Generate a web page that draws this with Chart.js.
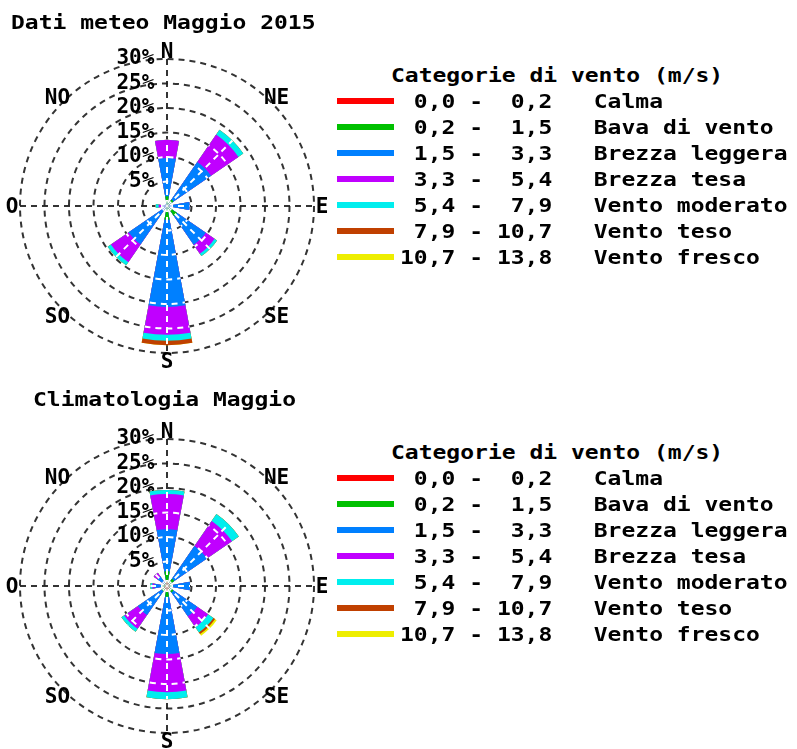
<!DOCTYPE html>
<html>
<head>
<meta charset="utf-8">
<title>Rosa dei venti - Maggio</title>
<script src="https://cdn.jsdelivr.net/npm/chart.js@4/dist/chart.umd.min.js"></script>
<style>
  html, body { margin: 0; padding: 0; background: #fff; }
  body { width: 797px; height: 749px; position: relative; overflow: hidden;
         font-family: "DejaVu Sans Mono", "Liberation Mono", monospace; font-weight: bold; color: #000; }
  canvas { position: absolute; left: 0; }
  .txt { position: absolute; font-size: 19px; line-height: 19px; white-space: pre;
         transform: scaleX(1.21); transform-origin: 0 0; }
  .swatch { position: absolute; width: 57px; height: 6px; }
</style>
</head>
<body>
<canvas id="rose2015" width="340" height="380" style="top:0px"></canvas>
<canvas id="roseClima" width="340" height="380" style="top:380px"></canvas>

<script>
// Compass sectors, clockwise from north
const directions = ['N', 'NE', 'E', 'SE', 'S', 'SO', 'O', 'NO'];

// Wind speed classes (m/s)
const speedRanges = [' 0,0 -  0,2', ' 0,2 -  1,5', ' 1,5 -  3,3', ' 3,3 -  5,4', ' 5,4 -  7,9', ' 7,9 - 10,7', '10,7 - 13,8'];
const speedNames  = ['Calma', 'Bava di vento', 'Brezza leggera', 'Brezza tesa', 'Vento moderato', 'Vento teso', 'Vento fresco'];

// Radial ticks (% of observations)
const percentTicks = [0, 5, 10, 15, 20, 25, 30];

// Dati meteo Maggio 2015: frequency (%) per direction, one array per speed class
const may2015Calma    = [0.0, 0.0, 0.0, 0.0, 0.0, 0.0, 0.0, 0.0];
const may2015Bava     = [2.0, 1.6, 0.4, 2.5, 2.8, 0.3, 0.0, 0.0];
const may2015Leggera  = [7.8, 9.3, 4.2, 7.1, 17.8, 9.2, 1.2, 0.5];
const may2015Tesa     = [3.7, 6.8, 0.0, 2.2, 5.7, 4.4, 0.5, 0.0];
const may2015Moderato = [0.0, 1.2, 0.0, 0.6, 1.2, 0.8, 0.6, 0.0];
const may2015Teso     = [0.0, 0.0, 0.0, 0.0, 0.9, 0.0, 0.0, 0.0];
const may2015Fresco   = [0.0, 0.0, 0.0, 0.0, 0.0, 0.0, 0.0, 0.0];

// Climatologia Maggio
const climaCalma    = [0.8, 0.6, 0.5, 0.8, 1.0, 0.8, 0.5, 0.4];
const climaBava     = [2.2, 1.2, 0.5, 0.8, 1.2, 0.5, 0.5, 0.4];
const climaLeggera  = [8.6, 8.1, 3.7, 5.9, 11.7, 5.9, 1.6, 1.6];
const climaTesa     = [7.2, 6.2, 0.0, 2.7, 7.8, 3.4, 0.4, 0.9];
const climaModerato = [0.8, 1.7, 0.0, 1.3, 1.4, 0.7, 0.4, 0.0];
const climaTeso     = [0.0, 0.0, 0.0, 0.4, 0.0, 0.0, 0.0, 0.0];
const climaFresco   = [0.0, 0.0, 0.0, 0.4, 0.0, 0.0, 0.0, 0.0];

const speedColors = ['#ff0000', '#00c000', '#0080ff', '#c000ff', '#00eeee', '#c04000', '#eeee00'];
const GRID_COLOR = 'rgba(30,30,30,0.9)';
const FONT_FAMILY = '"DejaVu Sans Mono", "Liberation Mono", monospace';
const LABEL_FONT = { family: FONT_FAMILY, size: 21, weight: 'bold' };
const WEDGE = 21; // angular width of each sector wedge, degrees

// Sector layout: the north wedge is split in two halves so that it sits
// centred on the vertical axis while the scale keeps startAngle = 0.
const sectorAngles = [WEDGE / 2];
const sectorLabels = ['N'];
for (let i = 1; i < directions.length; i++) {
  sectorAngles.push(45 - WEDGE, WEDGE);
  sectorLabels.push('', directions[i]);
}
sectorAngles.push(45 - WEDGE, WEDGE / 2);
sectorLabels.push('', 'N');

function toSectors(values) {
  const out = [values[0]];
  for (let i = 1; i < values.length; i++) out.push(0, values[i]);
  out.push(0, values[0]);
  return out;
}

// Grid lines drawn around the wedges: axes below, light copies on top of the fill
const roseGrid = {
  id: 'roseGrid',
  beforeDatasetsDraw(chart) {
    const s = chart.scales.r, ctx = chart.ctx, R = s.drawingArea;
    ctx.save();
    ctx.strokeStyle = GRID_COLOR;
    ctx.lineWidth = 2;
    ctx.setLineDash([6, 5]);
    ctx.beginPath();
    ctx.moveTo(s.xCenter, s.yCenter - R); ctx.lineTo(s.xCenter, s.yCenter + R);
    ctx.moveTo(s.xCenter - R, s.yCenter); ctx.lineTo(s.xCenter + R, s.yCenter);
    ctx.stroke();
    ctx.restore();
  },
  afterDatasetsDraw(chart) {
    const s = chart.scales.r, ctx = chart.ctx, R = s.drawingArea;
    const outer = chart.getDatasetMeta(chart.data.datasets.length - 1).data;
    ctx.save();
    ctx.beginPath();
    outer.forEach(arc => {
      const p = arc.getProps(['x', 'y', 'startAngle', 'endAngle', 'outerRadius'], true);
      if (p.outerRadius > 0) {
        ctx.moveTo(p.x, p.y);
        ctx.arc(p.x, p.y, p.outerRadius, p.startAngle, p.endAngle);
        ctx.closePath();
      }
    });
    ctx.clip();
    ctx.strokeStyle = '#ffffff';
    ctx.lineWidth = 2;
    ctx.setLineDash([6, 5]);
    s.ticks.forEach(t => {
      if (!t.value) return;
      ctx.beginPath();
      ctx.arc(s.xCenter, s.yCenter, s.getDistanceFromCenterForValue(t.value), 0, Math.PI * 2);
      ctx.stroke();
    });
    directions.forEach((d, i) => {
      const a = i * Math.PI / 4 - Math.PI / 2;
      ctx.beginPath();
      ctx.moveTo(s.xCenter, s.yCenter);
      ctx.lineTo(s.xCenter + R * Math.cos(a), s.yCenter + R * Math.sin(a));
      ctx.stroke();
    });
    ctx.restore();
  },
  afterDraw(chart) {
    const s = chart.scales.r, ctx = chart.ctx, r = s.drawingArea + 8;
    ctx.save();
    ctx.fillStyle = '#000';
    ctx.font = `bold ${LABEL_FONT.size}px ${FONT_FAMILY}`;
    ctx.textAlign = 'center';
    ctx.textBaseline = 'middle';
    directions.forEach((d, i) => {
      const a = i * Math.PI / 4 - Math.PI / 2;
      ctx.fillText(d, s.xCenter + r * Math.cos(a), s.yCenter + r * Math.sin(a) + 2);
    });
    ctx.restore();
  }
};

function makeRose(canvasId, series) {
  // stacked classes: each ring reaches the running total of the classes below it
  let running = directions.map(() => 0);
  const cumulative = series.map(vals => {
    running = running.map((v, i) => v + vals[i]);
    return running.slice();
  });
  return new Chart(document.getElementById(canvasId), {
    type: 'polarArea',
    data: {
      labels: sectorLabels,
      datasets: cumulative.map((vals, k) => ({
        label: speedNames[k],
        data: toSectors(vals),
        backgroundColor: speedColors[k],
        borderWidth: 0,
        angle: sectorAngles
      }))
    },
    options: {
      responsive: false,
      animation: false,
      events: [],
      layout: { padding: { left: 9, top: 48, right: 15, bottom: 16 } },
      plugins: { legend: { display: false }, tooltip: { enabled: false } },
      scales: {
        r: {
          min: 0,
          max: 30,
          startAngle: 0,
          afterBuildTicks: scale => { scale.ticks = percentTicks.map(v => ({ value: v })); },
          ticks: {
            showLabelBackdrop: false,
            backdropPadding: 0,
            color: '#000',
            font: LABEL_FONT,
            // trailing blanks push the centred label to the left of the axis
            callback: v => { const t = v + '%'; return t + ' '.repeat(t.length + 2); }
          },
          grid: { circular: true, color: GRID_COLOR, lineWidth: 2, borderDash: [6, 5] },
          border: { dash: [6, 5] },
          angleLines: { display: false },
          pointLabels: { display: false }
        }
      }
    },
    plugins: [roseGrid]
  });
}

makeRose('rose2015', [may2015Calma, may2015Bava, may2015Leggera, may2015Tesa, may2015Moderato, may2015Teso, may2015Fresco]);
makeRose('roseClima', [climaCalma, climaBava, climaLeggera, climaTesa, climaModerato, climaTeso, climaFresco]);

// Titles and legends
function addText(text, left, yMid) {
  const el = document.createElement('div');
  el.className = 'txt';
  el.textContent = text;
  el.style.left = left + 'px';
  el.style.top = (yMid - 9) + 'px';
  document.body.appendChild(el);
}
function addLegend(yTop) {
  addText('Categorie di vento (m/s)', 391, yTop);
  speedNames.forEach((name, k) => {
    const y = yTop + 26 + k * 26;
    const sw = document.createElement('div');
    sw.className = 'swatch';
    sw.style.left = '337px';
    sw.style.top = (y - 3) + 'px';
    sw.style.background = speedColors[k];
    document.body.appendChild(sw);
    addText(speedRanges[k] + '   ' + name, 400, y);
  });
}
addText('Dati meteo Maggio 2015', 11, 22);
addLegend(75);
addText('Climatologia Maggio', 33, 399);
addLegend(452);
</script>
</body>
</html>
